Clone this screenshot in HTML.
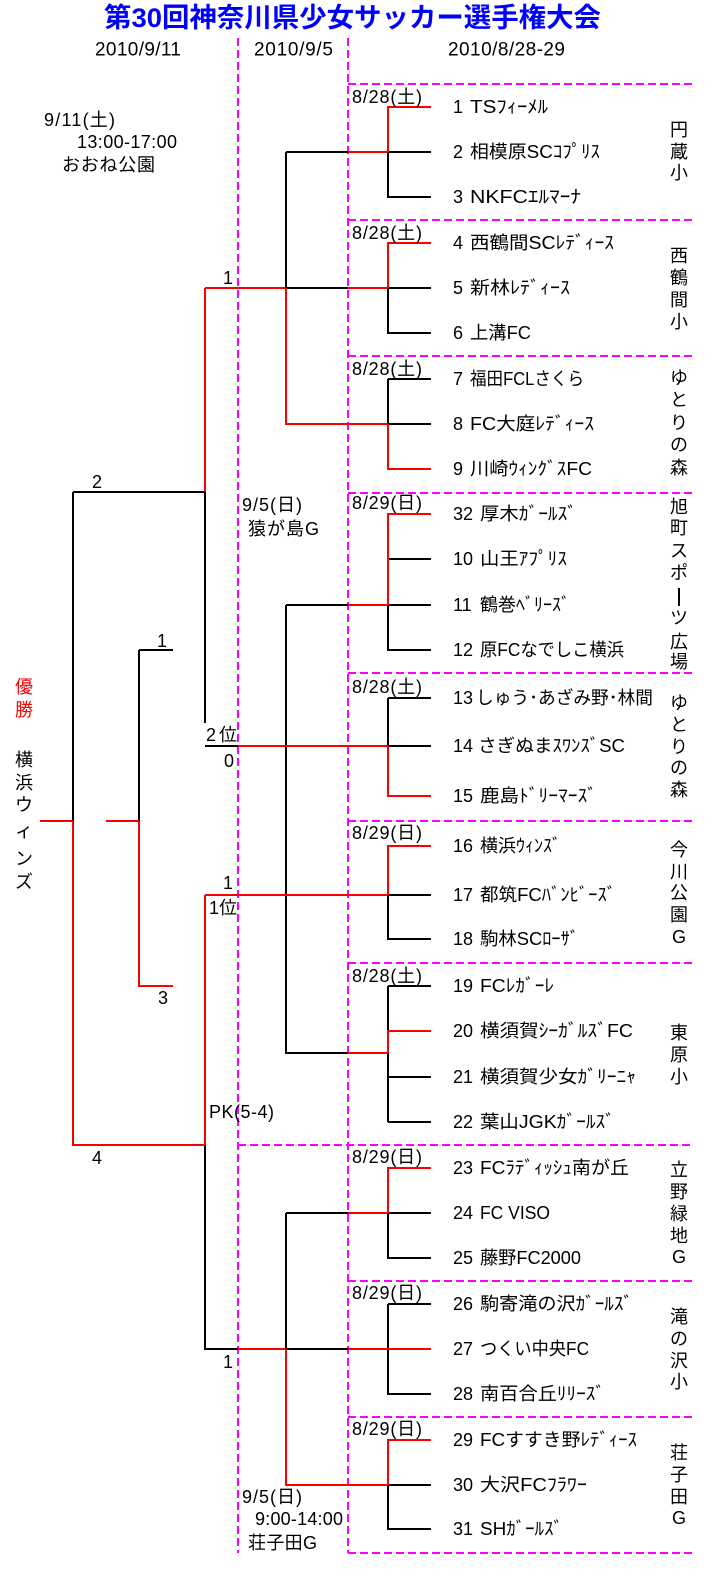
<!DOCTYPE html>
<html><head><meta charset="utf-8">
<style>
html,body{margin:0;padding:0;background:#fff;}
svg{display:block;}
text{font-family:"Liberation Sans","Noto Sans CJK JP",sans-serif;font-size:18px;fill:#000;dominant-baseline:central;}
</style></head>
<body>
<svg width="705" height="1583" viewBox="0 0 705 1583" xmlns="http://www.w3.org/2000/svg">
<!-- pink dashed -->
<g stroke="#ff00ff" stroke-width="2" fill="none" stroke-dasharray="8 4">
<path d="M238 38V1553M348 38V1553"/>
<path d="M348 84H693M348 220H693M348 356H693M348 493H693M348 673H693M348 821H693M348 963H693M238 1145H693M348 1281H693M348 1417H693M348 1553H693"/>
</g>
<!-- black lines -->
<g stroke="#000" stroke-width="2" fill="none">
<path d="M73 492H205M73 492V821M205 492V723M139 650H173M139 650V821M205 746H238"/>
<path d="M286 152H348M286 152V288H348M388 152V197H431M388 152H431M388 288V333H431M388 288H431"/>
<path d="M388 379H431M388 379V424M388 424H431"/>
<path d="M286 605H348M286 605V1053H348M388 559H431M388 605H431M388 605V650H431"/>
<path d="M388 698H431M388 698V746M388 746H431"/>
<path d="M388 895H431M388 895V939H431"/>
<path d="M388 986H431M388 986V1031M388 1053V1122M388 1077H431M388 1122H431"/>
<path d="M205 1145V1349H238M286 1349H348M286 1213V1349M286 1213H348"/>
<path d="M388 1213H431M388 1213V1258H431M388 1304H431M388 1304V1394H431M388 1485H431M388 1485V1529H431"/>
</g>
<!-- red lines -->
<g stroke="#ff0000" stroke-width="2" fill="none">
<path d="M40 821H73M106 821H139M73 821V1145H205M139 821V986H173"/>
<path d="M205 288V492M205 288H286M286 288V424H388M388 424V469H431"/>
<path d="M348 152H388M388 152V107H431M348 288H388M388 288V243H431"/>
<path d="M348 605H388M388 605V514H431"/>
<path d="M238 746H388M388 746V796H431"/>
<path d="M205 895H388M388 895V846H431M205 895V1145"/>
<path d="M348 1053H388M388 1053V1031H431"/>
<path d="M348 1213H388M388 1213V1168H431"/>
<path d="M238 1349H286M286 1349V1485H388M388 1485V1440H431M348 1349H431"/>
</g>

<!-- title -->
<text x="104" y="18" style="font-size:27px;font-weight:bold;fill:#0000ff" textLength="497" lengthAdjust="spacingAndGlyphs">第30回神奈川県少女サッカー選手権大会</text>

<!-- headers -->
<text x="95" y="50" style="font-size:19px" textLength="86">2010/9/11</text>
<text x="254" y="50" style="font-size:19px" textLength="79">2010/9/5</text>
<text x="448" y="50" style="font-size:19px" textLength="117">2010/8/28-29</text>

<!-- left info -->
<text x="44" y="120" textLength="71">9/11(土)</text>
<text x="77" y="142" textLength="100">13:00-17:00</text>
<text x="62" y="165" textLength="93">おおね公園</text>

<text x="242" y="505" textLength="60">9/5(日)</text>
<text x="248" y="529" textLength="71">猿が島G</text>
<text x="242" y="1497" textLength="60">9/5(日)</text>
<text x="255" y="1519" textLength="88">9:00-14:00</text>
<text x="248" y="1543" textLength="69">荘子田G</text>

<!-- score labels -->
<text x="228" y="278" text-anchor="middle">1</text>
<text x="97" y="482" text-anchor="middle">2</text>
<text x="162" y="641" text-anchor="middle">1</text>
<text x="206" y="735" textLength="31">2位</text>
<text x="229" y="761" text-anchor="middle">0</text>
<text x="228" y="883" text-anchor="middle">1</text>
<text x="209" y="908" textLength="28">1位</text>
<text x="163" y="998" text-anchor="middle">3</text>
<text x="209" y="1112" textLength="65">PK(5-4)</text>
<text x="97" y="1158" text-anchor="middle">4</text>
<text x="228" y="1362" text-anchor="middle">1</text>

<!-- champion -->
<g text-anchor="middle">
<text x="24" y="687" style="fill:#ff0000">優</text>
<text x="24" y="710" style="fill:#ff0000">勝</text>
<text x="24" y="760">横</text>
<text x="24" y="783">浜</text>
<text x="24" y="805">ウ</text>
<text x="24" y="831">ィ</text>
<text x="24" y="859">ン</text>
<text x="24" y="882">ズ</text>
</g>

<!-- group dates -->
<text x="352" y="97" textLength="70">8/28(土)</text>
<text x="352" y="233" textLength="70">8/28(土)</text>
<text x="352" y="369" textLength="70">8/28(土)</text>
<text x="352" y="503" textLength="70">8/29(日)</text>
<text x="352" y="687" textLength="70">8/28(土)</text>
<text x="352" y="833" textLength="70">8/29(日)</text>
<text x="352" y="976" textLength="70">8/28(土)</text>
<text x="352" y="1157" textLength="70">8/29(日)</text>
<text x="352" y="1293" textLength="70">8/29(日)</text>
<text x="352" y="1429" textLength="70">8/29(日)</text>

<!-- team numbers -->
<g>
<text x="453" y="107">1</text>
<text x="453" y="152">2</text>
<text x="453" y="197">3</text>
<text x="453" y="243">4</text>
<text x="453" y="288">5</text>
<text x="453" y="333">6</text>
<text x="453" y="379">7</text>
<text x="453" y="424">8</text>
<text x="453" y="469">9</text>
<text x="453" y="514">32</text>
<text x="453" y="559">10</text>
<text x="453" y="605">11</text>
<text x="453" y="650">12</text>
<text x="453" y="698">13</text>
<text x="453" y="746">14</text>
<text x="453" y="796">15</text>
<text x="453" y="846">16</text>
<text x="453" y="895">17</text>
<text x="453" y="939">18</text>
<text x="453" y="986">19</text>
<text x="453" y="1031">20</text>
<text x="453" y="1077">21</text>
<text x="453" y="1122">22</text>
<text x="453" y="1168">23</text>
<text x="453" y="1213">24</text>
<text x="453" y="1258">25</text>
<text x="453" y="1304">26</text>
<text x="453" y="1349">27</text>
<text x="453" y="1394">28</text>
<text x="453" y="1440">29</text>
<text x="453" y="1485">30</text>
<text x="453" y="1529">31</text>
</g>
<!-- team names -->
<g>
<text x="470" y="107" textLength="78" lengthAdjust="spacingAndGlyphs">TSﾌｨｰﾒﾙ</text>
<text x="470" y="152" textLength="130" lengthAdjust="spacingAndGlyphs">相模原SCｺﾌﾟﾘｽ</text>
<text x="470" y="197" textLength="111" lengthAdjust="spacingAndGlyphs">NKFCｴﾙﾏｰﾅ</text>
<text x="470" y="243" textLength="144" lengthAdjust="spacingAndGlyphs">西鶴間SCﾚﾃﾞｨｰｽ</text>
<text x="470" y="288" textLength="100" lengthAdjust="spacingAndGlyphs">新林ﾚﾃﾞｨｰｽ</text>
<text x="470" y="333" textLength="61" lengthAdjust="spacingAndGlyphs">上溝FC</text>
<text x="470" y="379" textLength="114" lengthAdjust="spacingAndGlyphs">福田FCLさくら</text>
<text x="470" y="424" textLength="124" lengthAdjust="spacingAndGlyphs">FC大庭ﾚﾃﾞｨｰｽ</text>
<text x="470" y="469" textLength="122" lengthAdjust="spacingAndGlyphs">川崎ｳｨﾝｸﾞｽFC</text>
<text x="480" y="514" textLength="97" lengthAdjust="spacingAndGlyphs">厚木ｶﾞｰﾙｽﾞ</text>
<text x="480" y="559" textLength="87" lengthAdjust="spacingAndGlyphs">山王ｱﾌﾟﾘｽ</text>
<text x="480" y="605" textLength="90" lengthAdjust="spacingAndGlyphs">鶴巻ﾍﾞﾘｰｽﾞ</text>
<text x="480" y="650" textLength="144" lengthAdjust="spacingAndGlyphs">原FCなでしこ横浜</text>
<text x="476" y="698" textLength="177" lengthAdjust="spacingAndGlyphs">しゅう･あざみ野･林間</text>
<text x="478" y="746" textLength="147" lengthAdjust="spacingAndGlyphs">さぎぬまｽﾜﾝｽﾞSC</text>
<text x="480" y="796" textLength="117" lengthAdjust="spacingAndGlyphs">鹿島ﾄﾞﾘｰﾏｰｽﾞ</text>
<text x="480" y="846" textLength="81" lengthAdjust="spacingAndGlyphs">横浜ｳｨﾝｽﾞ</text>
<text x="480" y="895" textLength="136" lengthAdjust="spacingAndGlyphs">都筑FCﾊﾞﾝﾋﾞｰｽﾞ</text>
<text x="480" y="939" textLength="99" lengthAdjust="spacingAndGlyphs">駒林SCﾛｰｻﾞ</text>
<text x="480" y="986" textLength="74" lengthAdjust="spacingAndGlyphs">FCﾚｶﾞｰﾚ</text>
<text x="480" y="1031" textLength="153" lengthAdjust="spacingAndGlyphs">横須賀ｼｰｶﾞﾙｽﾞFC</text>
<text x="480" y="1077" textLength="156" lengthAdjust="spacingAndGlyphs">横須賀少女ｶﾞﾘｰﾆｬ</text>
<text x="480" y="1122" textLength="135" lengthAdjust="spacingAndGlyphs">葉山JGKｶﾞｰﾙｽﾞ</text>
<text x="480" y="1168" textLength="149" lengthAdjust="spacingAndGlyphs">FCﾗﾃﾞｨｯｼｭ南が丘</text>
<text x="480" y="1213" textLength="70" lengthAdjust="spacingAndGlyphs">FC VISO</text>
<text x="480" y="1258" textLength="101" lengthAdjust="spacingAndGlyphs">藤野FC2000</text>
<text x="480" y="1304" textLength="153" lengthAdjust="spacingAndGlyphs">駒寄滝の沢ｶﾞｰﾙｽﾞ</text>
<text x="480" y="1349" textLength="109" lengthAdjust="spacingAndGlyphs">つくい中央FC</text>
<text x="480" y="1394" textLength="125" lengthAdjust="spacingAndGlyphs">南百合丘ﾘﾘｰｽﾞ</text>
<text x="480" y="1440" textLength="157" lengthAdjust="spacingAndGlyphs">FCすすき野ﾚﾃﾞｨｰｽ</text>
<text x="480" y="1485" textLength="107" lengthAdjust="spacingAndGlyphs">大沢FCﾌﾗﾜｰ</text>
<text x="480" y="1529" textLength="83" lengthAdjust="spacingAndGlyphs">SHｶﾞｰﾙｽﾞ</text>
</g>

<!-- venues (vertical) -->
<g text-anchor="middle">
<text x="679" y="130">円</text><text x="679" y="152">蔵</text><text x="679" y="173">小</text>
<text x="679" y="256">西</text><text x="679" y="278">鶴</text><text x="679" y="300">間</text><text x="679" y="322">小</text>
<text x="679" y="378">ゆ</text><text x="679" y="400">と</text><text x="679" y="423">り</text><text x="679" y="445">の</text><text x="679" y="468">森</text>
<text x="679" y="507">旭</text><text x="679" y="528">町</text><text x="679" y="551">ス</text><text x="679" y="573">ポ</text><text x="679" y="618">ツ</text><text x="679" y="642">広</text><text x="679" y="662">場</text>
<text x="679" y="703">ゆ</text><text x="679" y="725">と</text><text x="679" y="747">り</text><text x="679" y="768">の</text><text x="679" y="790">森</text>
<text x="679" y="850">今</text><text x="679" y="872">川</text><text x="679" y="893">公</text><text x="679" y="915">園</text><text x="679" y="937">G</text>
<text x="679" y="1033">東</text><text x="679" y="1055">原</text><text x="679" y="1077">小</text>
<text x="679" y="1170">立</text><text x="679" y="1192">野</text><text x="679" y="1214">緑</text><text x="679" y="1236">地</text><text x="679" y="1257">G</text>
<text x="679" y="1317">滝</text><text x="679" y="1339">の</text><text x="679" y="1361">沢</text><text x="679" y="1382">小</text>
<text x="679" y="1453">荘</text><text x="679" y="1475">子</text><text x="679" y="1497">田</text><text x="679" y="1518">G</text>
</g>
<path d="M679 588V606" stroke="#000" stroke-width="2"/>
</svg>
</body></html>
